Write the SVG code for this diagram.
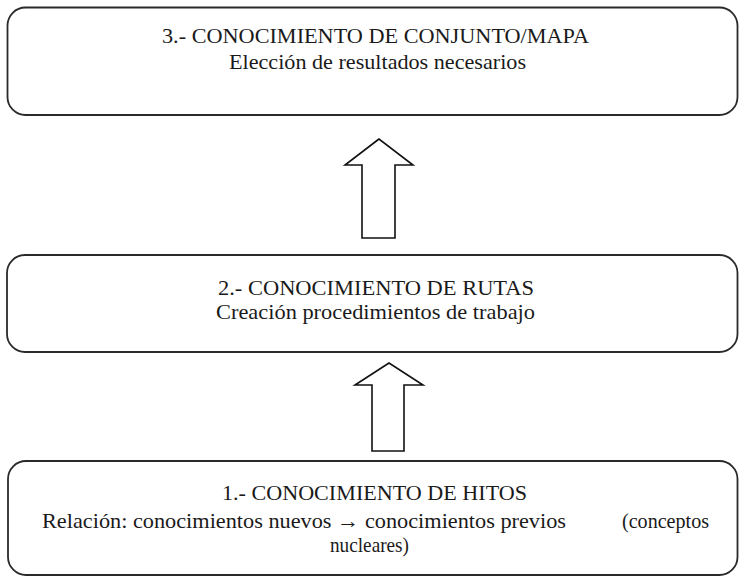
<svg xmlns="http://www.w3.org/2000/svg" width="739" height="576" viewBox="0 0 739 576">
<style>
.box{fill:#fff;stroke:#2a2a2a;stroke-width:1.8}
.arr{fill:#fff;stroke:#111;stroke-width:1.6;stroke-linejoin:miter}
.t{font-family:Liberation Serif, DejaVu Serif, Times New Roman, serif;font-size:22px;fill:#1a1a1a}
.c{text-anchor:middle}
</style>
<rect width="739" height="576" fill="#fff"/>
<g id="connectors">
<path class="arr" d="M379,139 L345,165 L362,165 L362,238 L395,238 L395,165 L413,165 Z"/>
<path class="arr" d="M389,363 L355,385 L372,385 L372,451 L404,451 L404,385 L423,385 Z"/>
</g>
<g id="node3">
<rect class="box" x="7.5" y="7.5" width="730" height="107.5" rx="18" ry="18"/>
<text class="t c" x="375.5" y="43" textLength="427" lengthAdjust="spacingAndGlyphs">3.- CONOCIMIENTO DE CONJUNTO/MAPA</text>
<text class="t c" x="377.5" y="69" textLength="297" lengthAdjust="spacingAndGlyphs">Elección de resultados necesarios</text>
</g>
<g id="node2">
<rect class="box" x="7" y="255" width="730.5" height="97" rx="18" ry="18"/>
<text class="t c" x="376" y="295" textLength="316" lengthAdjust="spacingAndGlyphs">2.- CONOCIMIENTO DE RUTAS</text>
<text class="t c" x="375.5" y="319" textLength="319" lengthAdjust="spacingAndGlyphs">Creación procedimientos de trabajo</text>
</g>
<g id="node1">
<rect class="box" x="8" y="461" width="729.5" height="114" rx="18" ry="18"/>
<text class="t c" x="374.5" y="500" textLength="305" lengthAdjust="spacingAndGlyphs">1.- CONOCIMIENTO DE HITOS</text>
<text class="t" x="42" y="528" textLength="524" lengthAdjust="spacingAndGlyphs">Relación: conocimientos nuevos → conocimientos previos</text>
<text class="t" x="622" y="528" textLength="87" lengthAdjust="spacingAndGlyphs">(conceptos</text>
<text class="t" x="330" y="552" textLength="79" lengthAdjust="spacingAndGlyphs">nucleares)</text>
</g>
</svg>
